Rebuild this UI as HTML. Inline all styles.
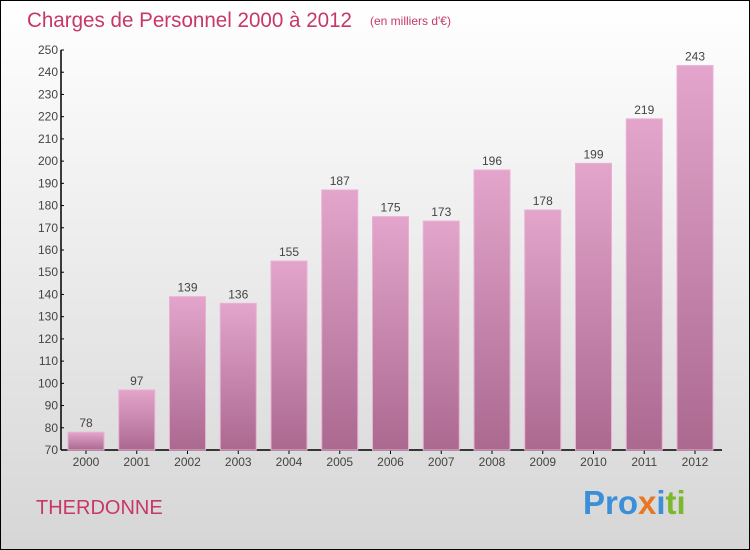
<!DOCTYPE html>
<html><head><meta charset="utf-8"><style>
body{margin:0;}
svg{display:block;font-family:"Liberation Sans",sans-serif;}
</style></head><body>
<svg width="750" height="550" viewBox="0 0 750 550">
<defs>
<linearGradient id="bg" x1="0" y1="0" x2="0" y2="1"><stop offset="0" stop-color="#ffffff"/><stop offset="1" stop-color="#d6d6d6"/></linearGradient>
<linearGradient id="bar" x1="0" y1="0" x2="0" y2="1"><stop offset="0" stop-color="#e3a5cb"/><stop offset="1" stop-color="#ab6990"/></linearGradient>
</defs>
<rect x="0.5" y="0.5" width="749" height="549" fill="url(#bg)" stroke="#000"/>
<text x="27" y="27" font-size="21" fill="#c8376a" textLength="325" lengthAdjust="spacingAndGlyphs">Charges de Personnel 2000 à 2012</text>
<text x="370" y="25" font-size="12" fill="#c8376a">(en milliers d'€)</text>
<text x="36" y="514" font-size="20" fill="#c8376a">THERDONNE</text>
<g font-size="33" font-weight="bold">
<text x="583" y="514"><tspan fill="#3a8fd8">Pro</tspan><tspan fill="#e87722">x</tspan><tspan fill="#3a8fd8">i</tspan><tspan fill="#7cb82f">ti</tspan></text>
</g>
<g id="axes"></g>
<g id="bars"></g>
</svg>
<script>
const categories=["2000","2001","2002","2003","2004","2005","2006","2007","2008","2009","2010","2011","2012"];
const values=[78,97,139,136,155,187,175,173,196,178,199,219,243];
const yTicks=[70,80,90,100,110,120,130,140,150,160,170,180,190,200,210,220,230,240,250];
const NS="http://www.w3.org/2000/svg";
const yMin=70,yMax=250,plotTop=50,plotBottom=450,plotLeft=61,x0=86,step=50.75,bw=36;
const y=v=>plotBottom-(v-yMin)/(yMax-yMin)*(plotBottom-plotTop);
const x=i=>x0+i*step;
function mk(t,a,p){const e=document.createElementNS(NS,t);for(const k in a)e.setAttribute(k,a[k]);p.appendChild(e);return e;}
const ax=document.getElementById('axes'),bs=document.getElementById('bars');
const yl=mk('line',{x1:plotLeft,y1:plotTop,x2:plotLeft,y2:plotBottom,stroke:'#000','stroke-width':1.5},ax);


const xl=mk('line',{x1:plotLeft,y1:plotBottom,x2:722,y2:plotBottom,stroke:'#000','stroke-width':1.5},ax);


yTicks.forEach(v=>{
 mk('line',{x1:plotLeft,y1:y(v),x2:plotLeft+3,y2:y(v),stroke:'#000'},ax);
 const t=mk('text',{x:plotLeft-3,y:y(v)+4,'font-size':12,fill:'#444','text-anchor':'end'},ax);
 t.textContent=v;
 
 
});
categories.forEach((c,i)=>{
 mk('line',{x1:x(i),y1:plotBottom,x2:x(i),y2:plotBottom+4,stroke:'#000'},ax);
 const t=mk('text',{x:x(i),y:plotBottom+16,'font-size':12,fill:'#444','text-anchor':'middle'},ax);
 t.textContent=c;
 
 
 const b=mk('rect',{x:x(i)-bw/2,y:y(values[i]),width:bw,height:plotBottom-y(values[i]),fill:'url(#bar)',stroke:'#eab0d2','stroke-width':1},bs);
 
 
 const l=mk('text',{x:x(i),y:y(values[i])-5,'font-size':12,fill:'#444','text-anchor':'middle'},bs);
 l.textContent=values[i];
 
 
});
</script>
</body></html>
